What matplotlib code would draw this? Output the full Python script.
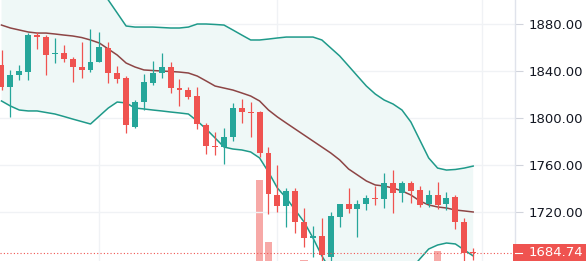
import matplotlib
matplotlib.use("Agg")
import matplotlib.pyplot as plt
from matplotlib.patches import Rectangle
import numpy as np

# ---------------- data ----------------
opens = [1845.1, 1826.4, 1836.6, 1839.1, 1870.6, 1868.9, 1854.5, 1855.3, 1850.2, 1843.4,
         1840.9, 1847.7, 1859.6, 1838.3, 1834.0, 1792.3, 1813.6, 1829.8, 1838.3, 1843.4,
         1825.5, 1823.8, 1818.7, 1794.0, 1776.2, 1775.3, 1783.8, 1808.5, 1805.1, 1805.1,
         1770.2, 1734.5, 1725.1, 1737.9, 1711.5, 1697.9, 1699.6, 1681.7, 1715.7, 1726.8,
         1722.6, 1726.8, 1731.9, 1731.1, 1744.7, 1736.2, 1744.7, 1738.7, 1726.8, 1734.5,
         1726.8, 1732.8, 1711.5, 1685.6]
highs = [1857.9, 1840.9, 1845.1, 1872.3, 1873.2, 1870.6, 1868.1, 1862.1, 1851.9, 1864.7,
         1875.7, 1873.2, 1864.7, 1844.3, 1835.7, 1815.3, 1837.4, 1848.5, 1855.3, 1847.7,
         1833.2, 1826.4, 1826.4, 1795.7, 1788.1, 1791.5, 1812.8, 1816.2, 1813.6, 1806.0,
         1775.3, 1760.0, 1740.4, 1740.4, 1723.4, 1708.1, 1714.9, 1720.0, 1726.8, 1740.4,
         1730.2, 1734.5, 1742.1, 1753.2, 1755.7, 1746.4, 1746.4, 1742.1, 1738.7, 1745.5,
         1737.0, 1734.5, 1714.9, 1689.4]
lows = [1823.8, 1800.9, 1832.3, 1832.3, 1858.7, 1836.6, 1846.8, 1847.7, 1830.6, 1834.0,
        1839.1, 1847.7, 1829.8, 1829.8, 1787.2, 1791.5, 1806.8, 1828.1, 1834.0, 1821.3,
        1810.2, 1816.2, 1790.6, 1769.4, 1768.5, 1760.9, 1780.4, 1795.7, 1783.8, 1766.8,
        1718.3, 1720.0, 1707.2, 1702.1, 1690.2, 1681.7, 1676.0, 1676.0, 1707.2, 1719.1,
        1698.7, 1721.7, 1726.0, 1723.4, 1719.1, 1728.5, 1727.7, 1724.3, 1724.3, 1722.6,
        1721.7, 1705.5, 1670.0, 1679.2]
closes = [1826.4, 1836.6, 1840.0, 1870.6, 1868.9, 1853.6, 1855.3, 1850.2, 1843.4, 1840.9,
          1847.7, 1860.4, 1838.3, 1833.2, 1794.0, 1813.6, 1830.6, 1838.3, 1843.4, 1825.5,
          1823.8, 1817.9, 1794.9, 1776.2, 1775.3, 1783.8, 1808.5, 1805.1, 1804.3, 1770.2,
          1735.3, 1725.1, 1737.9, 1711.5, 1697.9, 1699.6, 1683.4, 1716.6, 1726.8, 1722.6,
          1726.8, 1731.9, 1731.1, 1744.7, 1736.2, 1744.7, 1737.9, 1726.0, 1734.5, 1726.0,
          1731.9, 1711.5, 1684.9, 1684.74]

bb_upper = [1922, 1922, 1921, 1921, 1920, 1920, 1919, 1918, 1917, 1916, 1913, 1911.5,
            1900.4, 1889.4, 1878.3, 1877.4, 1877.4, 1877.4, 1877.0, 1876.6, 1876.6, 1877.4,
            1880.0, 1880.0, 1879.6, 1879.1, 1874.9, 1870.6, 1866.4,
            1866.4, 1867.2, 1868.1, 1868.9, 1868.9, 1868.9, 1868.9,
            1866.4, 1859.6, 1852.8, 1844.3, 1835.7, 1827.2, 1820.4, 1815.3, 1811.9, 1806.8,
            1796.6, 1781.3, 1766.0, 1757.4, 1755.7, 1756.2, 1757.4, 1759.1]
bb_mid = [1879.1, 1876.6, 1874.9, 1873.2, 1872.3, 1872.3, 1871.5, 1870.6, 1869.8, 1868.5,
          1866.4, 1863.8, 1858.7, 1853.6, 1846.8, 1843.4, 1840.9, 1840.4, 1840.0, 1839.6,
          1839.1, 1838.3, 1835.7, 1831.5, 1827.2, 1825.5, 1823.8, 1821.3, 1818.7, 1814.5,
          1806.8, 1800.9, 1795.7, 1790.6, 1785.5, 1780.4, 1775.3, 1770.2, 1764.3, 1756.6,
          1751.5, 1746.4, 1743.0, 1742.1, 1740.4, 1737.9, 1734.5, 1729.4, 1726.0, 1724.3,
          1723.4, 1721.7, 1720.9, 1720.0]
bb_lower = [1814.5, 1810.2, 1806.8, 1806.0, 1806.0, 1804.7, 1803.4, 1801.3, 1799.1, 1797.0,
            1794.9, 1801.7, 1808.5, 1813.6, 1812.8, 1808.5, 1807.7, 1806.8, 1806.0, 1805.1,
            1804.3, 1803.4, 1797.4, 1790.6, 1783.0, 1775.3, 1773.6, 1772.8, 1771.1, 1766.0,
            1754.0, 1740.4, 1731.9, 1721.7, 1711.5, 1697.9, 1682.6, 1670, 1666, 1662,
            1660, 1659, 1659, 1660, 1662, 1666, 1671, 1680.0, 1688.5, 1691.9,
            1693.6, 1692.8, 1687.7, 1682.6]

vol_idx = [29, 30, 34, 49]
vol_val = [221, 159, 141, 150]

price_ticks = [1720, 1760, 1800, 1840, 1880]
last_price = 1684.74
period_lines = [11, 31, 54]

# ---------------- styling ----------------
GREEN = '#26a69a'
RED = '#ef5350'
BAND = '#1f9a8a'
MID = '#8d4545'
FILL = '#eff8f7'
GRID = '#f0f2f5'
TXT = '#131722'

W, H = 586, 261
fig = plt.figure(figsize=(W / 100, H / 100), dpi=100)
fig.patch.set_facecolor('white')
rect = [0, 0, 515 / W, 1]

axv = fig.add_axes(rect)
axv.set_axis_off()
ax = fig.add_axes(rect)
ax.patch.set_visible(False)

n = len(opens)
x = np.arange(n)
ax.set_xlim(-0.169, 57.70)
ax.set_ylim(1678.3, 1900.43)
axv.set_xlim(-0.169, 57.70)
axv.set_ylim(140, 401)

# volume
axv.bar(vol_idx, vol_val, width=0.82, color='#f7a9a7', bottom=0, zorder=1)

# grid
for p in price_ticks:
    ax.axhline(p, color=GRID, lw=1, zorder=0)
for v in period_lines:
    ax.axvline(v, color=GRID, lw=1, zorder=0)

# bollinger bands
ax.fill_between(x, bb_lower, bb_upper, color=FILL, lw=0, zorder=1)
ax.plot(x, bb_upper, color=BAND, lw=1.1, zorder=2)
ax.plot(x, bb_lower, color=BAND, lw=1.1, zorder=2)
ax.plot(x, bb_mid, color=MID, lw=1.1, zorder=2)

# candles
o = np.array(opens); c = np.array(closes); h = np.array(highs); l = np.array(lows)
cols = [GREEN if cc >= oo else RED for oo, cc in zip(o, c)]
ax.vlines(x, l, h, colors=cols, lw=0.9, zorder=3)
body = np.maximum(np.abs(c - o), 0.9)
ax.bar(x, body, bottom=np.minimum(o, c), width=0.67, color=cols, lw=0, zorder=4)

# last price line
ax.axhline(last_price, color=RED, lw=0.8, ls=(0, (1, 2)), zorder=5)

# axis styling
for s in ['top', 'left', 'bottom']:
    ax.spines[s].set_visible(False)
ax.spines['right'].set_color('#e0e3eb')
ax.spines['right'].set_linewidth(1)
ax.set_xticks([])
ax.yaxis.tick_right()
ax.set_yticks(price_ticks)
ax.set_yticklabels([f"{p:.2f}" for p in price_ticks])
ax.tick_params(axis='y', length=5.5, width=0.8, color='#d1d4dc', pad=4.5,
               labelsize=9.5, labelcolor=TXT)

# last price label
fig.patches.append(Rectangle((513, -2), 80, 19, transform=None, facecolor=RED,
                             edgecolor='none', zorder=10, figure=fig))
fig.lines.append(plt.Line2D([515, 522], [8.5, 8.5], transform=None, color='white',
                            lw=0.8, zorder=11, figure=fig))
fig.text(529 / W, 8.5 / H, f"{last_price:.2f}", color='white', fontsize=9.5,
         fontweight='normal', ha='left', va='center', zorder=12)

fig.savefig('out.png', dpi=100, facecolor='white')
